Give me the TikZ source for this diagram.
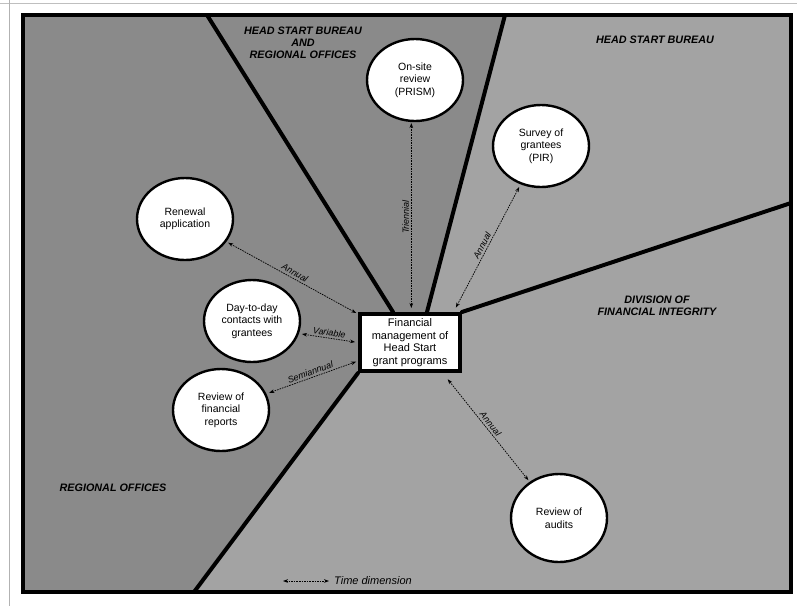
\documentclass[tikz,border=0pt]{standalone}
\usepackage{fontspec}
\setmainfont{Liberation Sans}
\usetikzlibrary{shapes.geometric,arrows.meta,calc}
\begin{document}
\begin{tikzpicture}[x=1pt,y=-1pt,
  bub/.style={ellipse, draw=black, line width=2.4pt, fill=white, minimum width=96pt, minimum height=82pt, inner sep=0pt, align=center, font=\fontsize{10.5}{12.5}\selectfont},
  ctr/.style={rectangle, draw=black, line width=4pt, fill=white, minimum width=100pt, minimum height=57pt, inner sep=0pt, align=center, font=\fontsize{11}{12.5}\selectfont},
  region/.style={font=\fontsize{10.8}{11.8}\selectfont\bfseries\itshape, align=center, inner sep=0pt},
  link/.style={line width=0.7pt, dash pattern=on 1.6pt off 1pt, {Stealth[length=5pt,width=3.6pt]}-{Stealth[length=5pt,width=3.6pt]}},
  freqfont/.style={font=\fontsize{9}{10}\selectfont\itshape, inner sep=2pt},
  freq/.style={freqfont, sloped, above, midway},
  wall/.style={line width=4pt, line cap=round}
]
\useasboundingbox (0,0) rectangle (797,606);
\fill[white] (0,0) rectangle (797,606);
% faint scan lines
\draw[black!25, line width=0.6pt] (0,3) -- (797,3);
\draw[black!30, line width=0.8pt] (9,0) -- (9,606);
% regions
\fill[black!46] (23,15) -- (505,15) -- (427,312) -- (358,312) -- (358,373) -- (194,592) -- (23,592) -- cycle;
\fill[black!36] (505,15) -- (791,15) -- (791,592) -- (194,592) -- (358,373) -- (462,373) -- (462,312) -- (427,312) -- cycle;
% wall end points
\coordinate (w1a) at (207,15);
\coordinate (w1b) at (393,312);
\coordinate (w2a) at (505,15);
\coordinate (w2b) at (427,312);
\coordinate (w3a) at (791,203);
\coordinate (w3b) at (462,312);
\coordinate (w4a) at (194,592);
\coordinate (w4b) at (358,373);
\draw[wall] (w1a) -- (w1b);
\draw[wall] (w2a) -- (w2b);
\draw[wall] (w3a) -- (w3b);
\draw[wall] (w4a) -- (w4b);
% frame
\draw[line width=4.5pt] (23,15) rectangle (791,592);
% region labels
\node[region] (lab1) at (303,43) {HEAD START BUREAU\\AND\\REGIONAL OFFICES};
\node[region] (lab2) at (655,40) {HEAD START BUREAU};
\node[region] (lab3) at (657,306) {DIVISION OF\\FINANCIAL INTEGRITY};
\node[region] (lab4) at (113,488) {REGIONAL OFFICES};
% nodes
\node[ctr] (box) at (410,342.5) {Financial\\management of\\Head Start\\grant programs};
\node[bub] (ons) at (415,80) {On-site\\review\\(PRISM)};
\node[bub] (sur) at (541,146) {Survey of\\grantees\\(PIR)};
\node[bub] (ren) at (185,219) {Renewal\\application};
\node[bub] (day) at (252,321) {Day-to-day\\contacts with\\grantees};
\node[bub] (fin) at (221,410) {Review of\\financial\\reports};
\node[bub, minimum height=88pt] (aud) at (559,518) {Review of\\audits};
% connectors
\draw[link, shorten >=2pt, shorten <=2pt] (ren) -- node[freq] {Annual} (box);
\draw[link, shorten >=3pt, shorten <=3pt] (day.-15) -- node[freq] {Variable} (box.west);
\draw[link, shorten >=2pt, shorten <=3pt] (fin) -- node[freq] {Semiannual} (box);
\draw[link, shorten <=4pt, shorten >=1pt] (ons.-95 |- box.north) -- node[freqfont, midway, rotate=90, anchor=south] {Triennial} (ons.-95);
\draw[link, shorten <=5pt, shorten >=3pt] (box.35) -- node[freq] {Annual} (sur.-118);
\draw[link, shorten <=8pt, shorten >=2pt] (box.-43) -- node[freq] {Annual} (aud.129);
% legend
\coordinate (lg1) at (283,581);
\coordinate (lg2) at (329,581);
\draw[link] (lg1) -- (lg2);
\node[anchor=west, inner sep=0pt, font=\fontsize{11}{12}\selectfont\itshape] (lgt) at (334,581) {Time dimension};
\end{tikzpicture}
\end{document}
